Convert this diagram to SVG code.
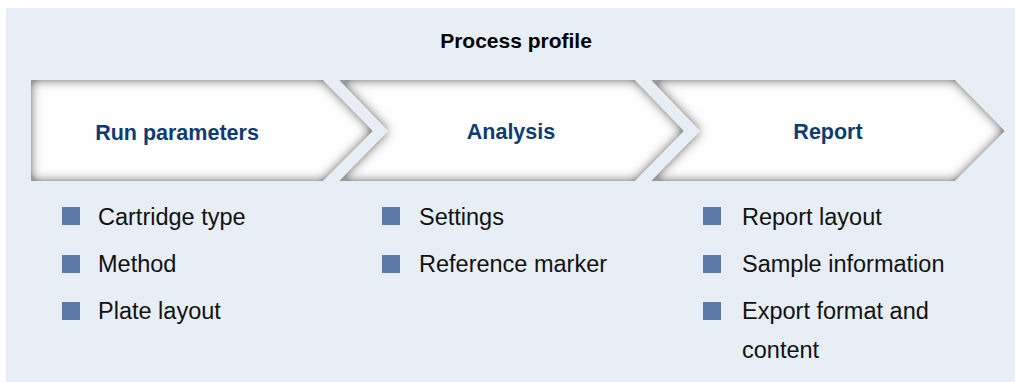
<svg xmlns="http://www.w3.org/2000/svg" width="1015" height="382" viewBox="0 0 1015 382">
<style>
.title{font-family:"Liberation Sans",Arial,sans-serif;font-size:21px;font-weight:bold;fill:#000;text-anchor:middle}
.lbl{font-family:"Liberation Sans",Arial,sans-serif;font-size:21.5px;font-weight:bold;fill:#0d3c73;text-anchor:middle}
.item{font-family:"Liberation Sans",Arial,sans-serif;font-size:23.5px;fill:#111}
.bul{fill:#5b79a8}
.chev{fill:#fff;filter:url(#inner)}
</style>
<defs>
<filter id="inner" x="-5%" y="-10%" width="110%" height="120%">
<feGaussianBlur in="SourceAlpha" stdDeviation="6" result="bl"/>
<feComponentTransfer in="bl" result="bl2"><feFuncA type="linear" slope="1.7" intercept="-0.7"/></feComponentTransfer>
<feFlood flood-color="#ffffff" result="w"/>
<feComposite in="w" in2="bl2" operator="in" result="wi"/>
<feFlood flood-color="#999999" result="g"/>
<feComposite in="g" in2="SourceAlpha" operator="in" result="gs"/>
<feMerge result="m"><feMergeNode in="gs"/><feMergeNode in="wi"/></feMerge>
<feComposite in="m" in2="SourceAlpha" operator="in"/>
</filter>
</defs>
<rect x="6" y="8" width="1009" height="374" fill="#e7eef6"/>
<text class="title" x="516" y="48">Process profile</text>
<g id="run-parameters">
<polygon class="chev" points="31,80 323,80 373,131 323,181 31,181"/>
<text class="lbl" x="177" y="140">Run parameters</text>
<rect class="bul" x="62" y="207" width="18" height="18"/>
<text class="item" x="98" y="225">Cartridge type</text>
<rect class="bul" x="62" y="255" width="18" height="18"/>
<text class="item" x="98" y="272">Method</text>
<rect class="bul" x="62" y="302" width="18" height="18"/>
<text class="item" x="98" y="319">Plate layout</text>
</g>
<g id="analysis">
<polygon class="chev" points="339,80 635,80 684,131 635,181 339,181 388,131"/>
<text class="lbl" x="511" y="139">Analysis</text>
<rect class="bul" x="382" y="207" width="18" height="18"/>
<text class="item" x="419" y="225">Settings</text>
<rect class="bul" x="382" y="255" width="18" height="18"/>
<text class="item" x="419" y="272">Reference marker</text>
</g>
<g id="report">
<polygon class="chev" points="651,80 955,80 1005,131 955,181 651,181 700,131"/>
<text class="lbl" x="828" y="139">Report</text>
<rect class="bul" x="703" y="207" width="18" height="18"/>
<text class="item" x="742" y="225">Report layout</text>
<rect class="bul" x="703" y="255" width="18" height="18"/>
<text class="item" x="742" y="272">Sample information</text>
<rect class="bul" x="703" y="302" width="18" height="18"/>
<text class="item" x="742" y="319">Export format and</text>
<text class="item" x="742" y="358">content</text>
</g>
<g id="connectors"/>
</svg>
